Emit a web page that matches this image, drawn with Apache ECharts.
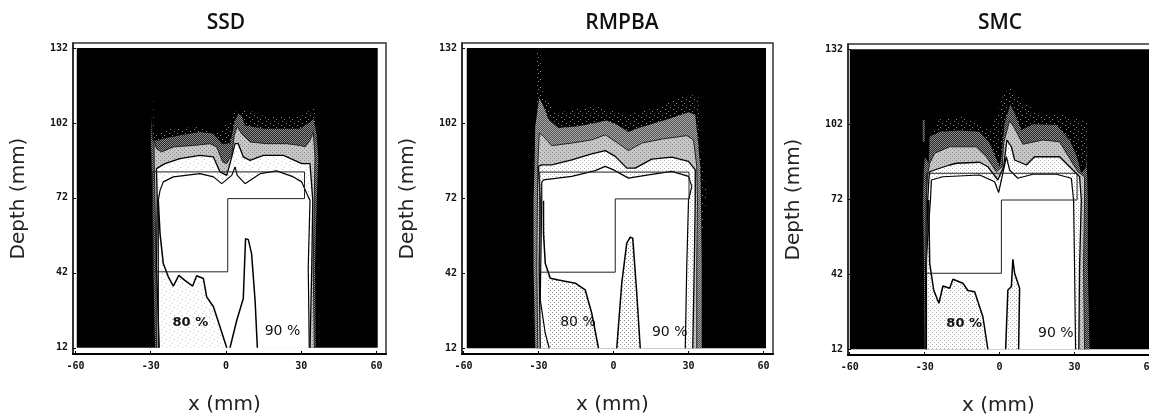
<!DOCTYPE html>
<html><head><meta charset="utf-8">
<style>html,body{margin:0;padding:0;background:#fff}#c{width:1149px;height:414px}</style>
<script src="https://cdn.jsdelivr.net/npm/echarts@6/dist/echarts.min.js"></script>
</head><body><div id="c"></div>
<script>
const panelTitles = ['SSD', 'RMPBA', 'SMC'];
const xTicks = [-60, -30, 0, 30, 60];
const yTicks = [12, 42, 72, 102, 132];

// ---- SSD contours (x mm, depth mm)
const ssdField = [[-59.5,12],[-59.5,132],[60.5,132],[60.5,12]];
const ssdHalo = [[-30,113.7],[-29,113.7],[-28.7,97.7],[-23.7,99.7],[-10.4,100.4],[-2.4,97.7],[3,106.4],[9.6,107],[16.2,104.4],[29.5,104.4],[35.5,108.4],[36.2,97.7],[37,85],[30,85],[-29,85]];
const ssdOuter = [[-28.3,12],[-29,44.4],[-29,59],[-29.4,71],[-29.6,82.4],[-29.9,95],[-29.6,104.4],[-29.3,95],[-27,95],[-25,95.7],[-18.4,97],[-10.4,98.4],[-5,97.7],[-1.7,93.7],[1.6,93.7],[3.6,103],[4.9,105.7],[6.2,105],[7.6,101],[14.9,99.7],[22.9,99.7],[29.5,99.7],[33.5,102.4],[34.8,103.7],[35.9,99],[36.8,88.4],[36.2,71],[35.5,44.4],[35.8,12]];
const ssdA = [[-27.7,12],[-27.9,44.4],[-28.3,71],[-28.6,85.7],[-28.7,95],[-27.7,91.7],[-25.7,90.4],[-21,92.4],[-13,93],[-6.4,93.7],[-3.7,92.4],[-1.3,86.4],[0.3,85.7],[2.3,89.7],[3.3,97],[4.5,100.7],[6.2,97.7],[9.6,94.4],[16.2,93.7],[24.2,93.7],[29.5,93],[31.5,92.4],[33.5,95],[34.8,98.4],[35.5,88.4],[35.2,71],[34.8,44.4],[35.2,12]];
const ssdB = [[-26.6,12],[-27.7,44.4],[-27.4,71],[-27.7,83.7],[-24.3,85.7],[-18.4,87.7],[-10.4,89],[-5,88.4],[-2.4,82.4],[0.3,81],[2.3,88.4],[3.6,93.7],[4.9,93.7],[6.9,88.4],[9.6,87],[14.9,89],[22.9,89],[30.2,85.7],[33.5,85.7],[34.6,71],[34.2,44.4],[33.5,12]];
const ssdC = [[-27,12],[-27,71],[-26.3,75],[-25,78.4],[-21,80.4],[-10.4,81.7],[-5,80.4],[-1.7,77.7],[2.3,81],[3.6,84.4],[4.5,81],[7.6,77.7],[13.6,81.7],[20.2,82.8],[26.9,80.4],[30.2,78.4],[32.8,72.4],[33.5,71],[32.8,44.4],[33.2,12]];
const ssd80 = [[-27,71],[-26.3,57.7],[-25,45.7],[-23,40.4],[-21,36.7],[-18.8,41],[-16.4,39],[-13.3,36.7],[-11.7,40.8],[-9,39.7],[-7.7,32.4],[-5,28.4],[-2.4,20.4],[0.3,12]];
const ssdSpike = [[1.6,12],[4.3,23],[6.9,31.7],[7.8,55.7],[8.9,55.3],[10.2,49.7],[11.6,31],[12.5,12]];
const ssdTarget = [[-29,42.4],[-29.4,82.4],[31.3,82.4],[31.3,71.7],[0.7,71.7],[0.7,42.4],[-29,42.4]];

// ---- RMPBA contours
const rmField = [[-58.7,12],[-58.7,132],[61,132],[61,12]];
const rmHalo = [[-31.3,131.3],[-29.3,131.3],[-28.7,115.3],[-23.3,106],[-7.3,108.7],[6,105.3],[19.3,108.7],[27.3,112.7],[34,113.3],[34.7,91],[37.3,75.3],[36,58],[30,58],[30,95],[-31.3,95]];
const rmOuter = [[-31.3,12],[-32,44.7],[-32,71],[-31.6,84.7],[-31.3,100.7],[-29.7,112],[-28,108.7],[-26,103.3],[-22,100],[-14,100.7],[-7.3,102],[-2.7,103],[1.3,101.3],[6,98.4],[10,100],[16.7,102],[23.3,104],[30,106.3],[32.7,105.3],[33.7,95.3],[34.7,84.7],[35,71],[35.3,44.7],[35.3,12]];
const rmA = [[-30.3,12],[-30.7,44.7],[-30.3,84.7],[-29.7,98],[-28,96.7],[-24.7,93],[-16.7,94],[-8.7,95.3],[-3.3,97.3],[0.7,94.7],[6,91],[11.3,94],[19.3,95.6],[29.3,97],[32,95.3],[33.3,84.7],[33.6,71],[33.3,44.7],[33.3,12]];
const rmB = [[-29.3,12],[-29.7,44.7],[-29.3,71],[-30,84.7],[-28.7,85.3],[-24.7,85.3],[-16.7,87.3],[-8.7,89.7],[-3.3,91],[0.7,88.7],[5.3,84],[8.7,84],[15.3,87.6],[23.3,88.4],[30,86.7],[32.7,83.3],[32.7,71],[32.3,44.7],[31.7,12]];
const rmC = [[-25.7,12],[-27.3,18],[-29.3,31.3],[-28.7,71],[-28.7,78.4],[-28,79.3],[-16.7,80.7],[-7.3,83],[-3.3,84.7],[0,83.3],[6,80],[14,81.3],[23.3,82.7],[30,80.7],[31.3,76.7],[30,71],[29.3,44.7],[28.7,12]];
const rm80 = [[-28,71],[-28,58],[-27.3,46],[-25.3,40],[-22,39.3],[-15.3,38],[-11.3,35.3],[-8.7,26],[-6,12]];
const rmSpike = [[1.3,12],[3.3,38],[5.3,54],[6.7,56.4],[7.7,56],[9.3,34],[10.7,12]];
const rmTarget = [[-29.5,42.4],[-29.5,82.4],[30.2,82.4],[30.2,71.7],[0.7,71.7],[0.7,42.4],[-29.5,42.4]];

// ---- SMC contours
const smcField = [[-60,12],[-60,132],[64,132],[64,12]];
const smcHalo = [[-28,98.4],[-24,104],[-13.3,105],[-4,99.7],[1.3,113],[4,116.8],[8,112.4],[16,105.7],[26.7,105.7],[35.3,102.4],[35.3,85],[30,85],[-28,85]];
const smcFringe = [[-30.8,103.7],[-30,103.7],[-30,95],[-30.8,95]];
const smcOuter = [[-30,12],[-30.4,53],[-30.7,71.7],[-30.4,82.4],[-30,89],[-28.4,86.4],[-28,97],[-24,99],[-16,99.5],[-8,99],[-4,94.4],[0,85],[0.7,89],[2,102.4],[4.3,110],[6,106.4],[8.7,99.7],[13.3,102],[22.7,101.7],[28,95.7],[30.7,89.7],[32.7,82.4],[34.7,85],[34.7,94.4],[35.3,71.7],[35.3,45],[36,12]];
const smcA = [[-29.6,12],[-29.6,45],[-29.4,71.7],[-28.8,82],[-28,86.4],[-26,90.4],[-20,93],[-9.3,93],[-5.3,89],[-1.3,83],[1,85],[1.6,94.4],[4,103.5],[6,100.4],[9.3,94],[17.3,95.7],[24,95],[28,88.4],[31.3,83],[34,81],[34,71.7],[33.6,45],[34,12]];
const smcB = [[-29.3,12],[-29.3,45],[-28.8,71.7],[-28.3,80],[-28,83],[-24,84.4],[-20,85.7],[-17.3,86.4],[-8,86.8],[-4.7,85],[-0.7,79.7],[1.6,85],[2.9,95.7],[4.7,93],[6,87.7],[10.7,85.7],[14,89],[24,89],[29.3,83.7],[32,81],[32.7,71.7],[32,45],[31.7,12]];
const smcC = [[-29.3,12],[-29.6,45],[-27.7,71.7],[-27.3,79.7],[-22.7,81],[-8,81.7],[-2,79],[-0.4,74.7],[0.7,79.7],[2.7,89],[4,83.7],[7.3,80.4],[13.3,82],[22.7,82],[28.7,80.4],[29.6,71.7],[30,45],[30.4,12]];
const smc80 = [[-28.4,71.7],[-28,46.4],[-26.4,35.7],[-24.3,30.4],[-22.7,37.3],[-20,36.4],[-18.7,40],[-14.7,38.4],[-12.7,35.5],[-10,35],[-6.7,25],[-4.7,12]];
const smcSpike = [[2.4,12],[3.3,35.7],[4.7,37],[5.3,48],[6,42.4],[8,36.4],[7.6,12]];
const smcTarget = [[-29.3,42.4],[-29.3,82.4],[31,82.4],[31,71.7],[0.7,71.7],[0.7,42.4],[-29.3,42.4]];

const label80 = '80 %', label90 = '90 %';
const label80At = [-14.2, 22.2], label90At = [22.5, 18.4];

// ---- halftone patterns: base colour plus a dot colour on the marked cells
function halftone(base, dot, rows){
  const c=document.createElement('canvas');c.width=rows[0].length;c.height=rows.length;
  const g=c.getContext('2d');
  g.fillStyle=base;g.fillRect(0,0,c.width,c.height);
  g.fillStyle=dot;
  rows.forEach((r,y)=>[...r].forEach((ch,x)=>{if(ch==='1')g.fillRect(x,y,1,1);}));
  return {image:c,repeat:'repeat'};
}
const sparse8 = ['00000000','00100000','00000000','00000010','00000000','01000000','00000000','00001000'];
const checker = ['10','01'];
const quad = ['1000','0000','0010','0000'];
const fillHalo  = halftone('#000','#8a8a8a',sparse8);
const fillDark  = halftone('#262626','#8c8c8c',checker);
const fillMid   = halftone('#c6c6c6','#8a8a8a',quad);
const fillLight = halftone('#ffffff','#b0b0b0',quad);
const fillMidR  = halftone('#555555','#a8a8a8',checker);
const fillDots  = halftone('#ffffff','#8f8f8f',quad);
const fillPale  = halftone('#ffffff','#a5a5a5',quad);
const fillFaint = halftone('#ffffff','#c4c4c4',sparse8);

function poly(gridIndex, pts, fill){
  return {type:'custom',coordinateSystem:'cartesian2d',xAxisIndex:gridIndex,yAxisIndex:gridIndex,silent:true,animation:false,clip:false,
    data:pts,
    renderItem:(p,api)=>p.dataIndex===0?{type:'polygon',shape:{points:pts.map(q=>api.coord(q))},style:{fill:fill,stroke:null}}:null};
}
function path(gridIndex, pts, color, width){
  return {type:'line',xAxisIndex:gridIndex,yAxisIndex:gridIndex,silent:true,animation:false,symbol:'none',
    data:pts,lineStyle:{color:color,width:width},clip:false};
}
function text(gridIndex, at, str, font){
  return {type:'custom',coordinateSystem:'cartesian2d',xAxisIndex:gridIndex,yAxisIndex:gridIndex,silent:true,animation:false,clip:false,
    data:[at],
    renderItem:(p,api)=>{const c=api.coord(at);return {type:'text',x:c[0],y:c[1],style:{text:str,fill:'#111',font:font+' "DejaVu Sans"',align:'center',verticalAlign:'middle'}};}};
}

const panels = [
 {field:ssdField,halo:ssdHalo,outer:ssdOuter,a:ssdA,b:ssdB,c:ssdC,low:ssd80,spike:ssdSpike,target:ssdTarget,fills:[fillDark,fillMid,fillFaint],lowFill:fillFaint,spikeFill:'#fff',font:'bold 13px',
  grid:{left:73,top:43,width:313,height:311},x:[-61,63.8],y:[9.5,134],title:221},
 {field:rmField,halo:rmHalo,outer:rmOuter,a:rmA,b:rmB,c:rmC,low:rm80,spike:rmSpike,target:rmTarget,fills:[fillMidR,fillMid,fillLight],lowFill:fillDots,spikeFill:fillDots,font:'normal 14px',
  grid:{left:462,top:43,width:311,height:311},x:[-60.6,63.8],y:[9.7,134],title:617},
 {field:smcField,halo:smcHalo,outer:smcOuter,a:smcA,b:smcB,c:smcC,low:smc80,spike:smcSpike,target:smcTarget,fills:[fillDark,fillMid,fillLight],lowFill:fillPale,spikeFill:fillPale,font:'bold 13px',
  grid:{left:848,top:44,width:311,height:311},x:[-60.7,63.8],y:[9.7,134.1],title:995}
];

const series=[];
panels.forEach((P,i)=>{
  series.push(poly(i,P.field,'#000'));
  series.push(poly(i,P.halo,fillHalo));
  series.push(poly(i,P.outer,P.fills[0]));
  series.push(poly(i,P.a,P.fills[1]));
  series.push(poly(i,P.b,P.fills[2]));
  series.push(poly(i,P.c,'#fff'));
  series.push(poly(i,P.low.concat([[P.c[0][0],12],[P.low[0][0],P.low[0][1]]]),P.lowFill));
  series.push(poly(i,P.spike,P.spikeFill));
  series.push(path(i,P.a,'#222',1));
  series.push(path(i,P.b,'#000',1.3));
  series.push(path(i,P.c,'#000',1.2));
  series.push(path(i,P.low,'#000',1.5));
  series.push(path(i,P.spike,'#000',1.5));
  series.push(path(i,P.target,'#222',1));
  series.push(text(i,label80At,label80,P.font));
  series.push(text(i,label90At,label90,'normal 14px'));
});
series.push(poly(2,smcFringe,fillDark));

const tickFont={color:'#111',fontFamily:'"DejaVu Sans Mono"',fontWeight:'bold',fontSize:10};
const option={
  animation:false,backgroundColor:'#fff',
  title:panels.map((P,i)=>({text:panelTitles[i],left:P.title,top:8,textAlign:'center',
    textStyle:{fontFamily:'"Open Sans"',fontWeight:600,fontSize:21,color:'#111'}})),
  grid:panels.map(P=>Object.assign({show:true,outerBoundsMode:'none',borderColor:'#333',borderWidth:1.5,backgroundColor:'#fff',containLabel:false},P.grid)),
  xAxis:panels.map((P,i)=>({type:'value',gridIndex:i,min:P.x[0],max:P.x[1],name:'x (mm)',nameLocation:'middle',nameGap:41,
    nameTextStyle:{fontFamily:'"DejaVu Sans"',fontSize:20,color:'#222',padding:[0,10,0,0]},
    axisLine:{show:true,onZero:false,lineStyle:{color:'#000',width:2}},splitLine:{show:false},
    axisTick:{show:true,inside:true,length:3,customValues:xTicks,lineStyle:{color:'#000',width:1}},
    axisLabel:Object.assign({customValues:xTicks,margin:7},tickFont)})),
  yAxis:panels.map((P,i)=>({type:'value',gridIndex:i,min:P.y[0],max:P.y[1],name:'Depth (mm)',nameLocation:'middle',nameGap:44,nameRotate:90,
    nameTextStyle:{fontFamily:'"DejaVu Sans"',fontSize:20,color:'#222'},
    axisLine:{show:true,onZero:false,lineStyle:{color:'#222',width:1.5}},splitLine:{show:false},
    axisTick:{show:true,inside:true,length:3,customValues:yTicks,lineStyle:{color:'#000',width:1}},
    axisLabel:Object.assign({customValues:yTicks,margin:5},tickFont)})),
  series:series
};
echarts.init(document.getElementById('c'),null,{renderer:'canvas'}).setOption(option);
</script></body></html>
